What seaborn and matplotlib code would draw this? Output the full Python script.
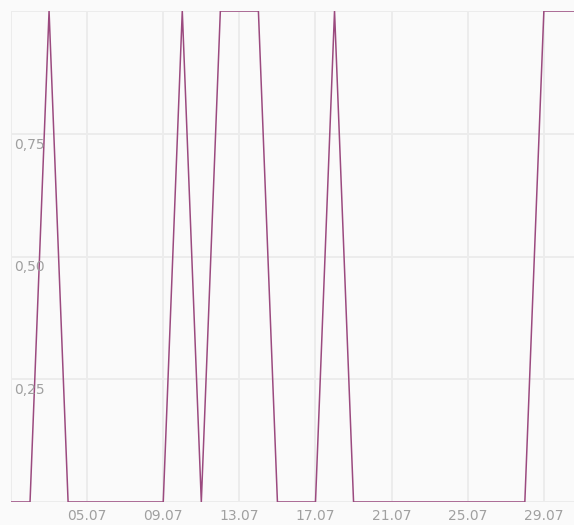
import pandas as pd
import matplotlib.pyplot as plt
import matplotlib.dates as mdates
import seaborn as sns

# Daily values for July (1 = yes, 0 = no)
days = list(range(1, 32))
values = [0, 0, 1, 0, 0, 0, 0, 0, 0, 1, 0, 1, 1, 1, 0, 0, 0, 1, 0, 0,
          0, 0, 0, 0, 0, 0, 0, 0, 1, 1, 1]
x_ticks = ['2023-07-05', '2023-07-09', '2023-07-13', '2023-07-17',
           '2023-07-21', '2023-07-25', '2023-07-29']
y_ticks = [0, 0.25, 0.5, 0.75, 1]
y_labels = ['0,25', '0,50', '0,75']

data = pd.DataFrame({
    'date': pd.to_datetime(['2023-07-%02d' % d for d in days]),
    'value': values,
})

sns.set_style('white')
plt.rcParams['font.family'] = ['DejaVu Sans']

fig = plt.figure(figsize=(5.74, 5.25), dpi=100, facecolor='#fafafa')
ax = fig.add_axes([11 / 574, 23 / 525, 563 / 574, 491 / 525])
ax.set_facecolor('#fafafa')

sns.lineplot(data=data, x='date', y='value', ax=ax, color='#9b4a7f',
             linewidth=1.1)

ax.set_ylim(0, 1)
ax.set_xlim(pd.Timestamp('2023-07-01'), pd.Timestamp('2023-07-30 14:00'))
ax.set_yticks(y_ticks)
ax.set_yticklabels([])
ax.set_xticks(pd.to_datetime(x_ticks).tolist() + [pd.Timestamp('2023-07-01')])
ax.xaxis.set_major_formatter(mdates.DateFormatter('%d.%m'))
labels = [t for t in pd.to_datetime(x_ticks).strftime('%d.%m')] + ['']
ax.set_xticklabels(labels)
ax.tick_params(axis='x', length=0, pad=5, labelsize=10, labelcolor='#a0a0a0')
ax.tick_params(axis='y', length=0)
ax.grid(True, color='#ececec', linewidth=1.4)
ax.set_axisbelow(True)
for s in ax.spines.values():
    s.set_visible(False)
ax.set_xlabel('')
ax.set_ylabel('')

# y labels sit just under their grid lines, inside the plot
for val, lab in zip(y_ticks[1:4], y_labels):
    ax.text(0.006, val - 0.008, lab, transform=ax.get_yaxis_transform(),
            ha='left', va='top', fontsize=10, color='#a0a0a0')

fig.savefig('out.png', dpi=100, facecolor='#fafafa')
